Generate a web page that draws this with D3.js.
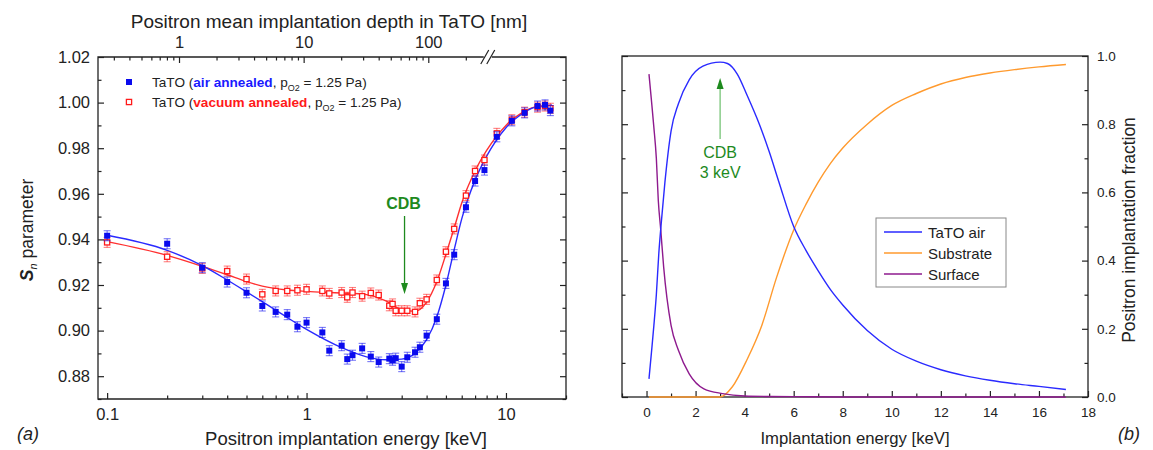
<!DOCTYPE html>
<html>
<head>
<meta charset="utf-8">
<script src="https://cdn.jsdelivr.net/npm/d3@7"></script>
<style>
  body { margin: 0; background: #fff; }
  svg { display: block; font-family: "Liberation Sans", Arial, sans-serif; }
  .tick text { fill: #222; }
</style>
</head>
<body>
<svg id="fig" width="1153" height="450"></svg>
<script>
// ---------- Panel (a): S_n parameter vs positron energy ----------
const energyAir = [0.1,0.2,0.3,0.4,0.5,0.6,0.7,0.8,0.9,1.0,1.2,1.3,1.5,1.6,1.7,1.9,2.1,2.3,2.6,2.7,2.8,3.0,3.2,3.5,3.7,4.0,4.5,5.0,5.5,6.3,7.0,7.8,9.0,10.7,12.4,14.4,15.7,16.7];
const sAir = [0.9416,0.9381,0.9276,0.9213,0.9166,0.9108,0.9082,0.9070,0.9017,0.9035,0.8992,0.8912,0.8934,0.8875,0.8892,0.8922,0.8886,0.8862,0.8877,0.8870,0.8879,0.8842,0.8883,0.8905,0.8927,0.8978,0.9050,0.9207,0.9333,0.9541,0.9656,0.9704,0.9850,0.9920,0.9955,0.9985,0.9990,0.9965];
const energyVac = [0.1,0.2,0.3,0.4,0.5,0.6,0.7,0.8,0.9,1.0,1.2,1.3,1.5,1.6,1.7,1.9,2.1,2.3,2.6,2.7,2.8,3.0,3.2,3.5,3.7,4.0,4.5,5.0,5.5,6.3,7.0,7.8,9.0,10.7,12.4,14.4,15.7,16.7];
const sVac = [0.9387,0.9324,0.9273,0.9261,0.9226,0.9159,0.9174,0.9174,0.9177,0.9181,0.9174,0.9163,0.9167,0.9146,0.9167,0.9151,0.9165,0.9156,0.9109,0.9117,0.9087,0.9087,0.9087,0.9082,0.9120,0.9137,0.9222,0.9346,0.9446,0.9592,0.9700,0.9748,0.9865,0.9925,0.9958,0.9980,0.9985,0.9975];
const sErr = 0.0022;

// fitted model curves
const fitAirE = [0.1,0.2,0.3,0.4,0.5,0.7,1.0,1.5,2.0,2.5,3.0,3.5,4.0,4.5,5.0,5.5,6.0,7.0,8.0,10.0,12.0,14.0,17.0];
const fitAirS = [0.9418,0.9352,0.9285,0.9222,0.9170,0.9090,0.9005,0.8925,0.8885,0.8872,0.8875,0.8900,0.8960,0.9060,0.9200,0.9355,0.9490,0.9660,0.9765,0.9890,0.9950,0.9980,0.9990];
const fitVacE = [0.1,0.2,0.3,0.4,0.5,0.6,0.8,1.0,1.5,2.0,2.5,3.0,3.5,4.0,4.5,5.0,5.5,6.0,7.0,8.0,10.0,12.0,14.0,17.0];
const fitVacS = [0.9390,0.9330,0.9282,0.9245,0.9215,0.9195,0.9178,0.9172,0.9165,0.9158,0.9130,0.9092,0.9085,0.9125,0.9215,0.9335,0.9450,0.9560,0.9700,0.9790,0.9900,0.9955,0.9980,0.9985];

const sTicksMajor = [0.88,0.90,0.92,0.94,0.96,0.98,1.00,1.02];
const sTicksMinor = [0.87,0.89,0.91,0.93,0.95,0.97,0.99,1.01];
const eTicksMajor = [0.1,1,10];
const eTicksMinor = [0.2,0.3,0.4,0.5,0.6,0.7,0.8,0.9,2,3,4,5,6,7,8,9,20];
const depthTicksMajor = [1,10,100];
const depthTicksMinor = [0.3,0.4,0.5,0.6,0.7,0.8,0.9,2,3,4,5,6,7,8,9,20,30,40,50,60,70,80,90,200];
const depthBreak = 300;
// mean implantation depth z = A * E^n (nm, keV)
const depthA = 10.55, depthN = 1.6;

// ---------- Panel (b): implantation fractions ----------
const tatoE = [0.1,0.2,0.3,0.4,0.5,0.6,0.75,1.0,1.3,1.74,2.3,3.0,3.3,3.7,4.1,4.6,5.0,5.4,6.0,6.5,7.0,7.5,8.0,9.0,10.0,11.0,12.0,13.0,14.0,15.0,16.0,17.1];
const tatoF = [0.053,0.13,0.21,0.30,0.42,0.51,0.63,0.78,0.86,0.93,0.97,0.982,0.978,0.947,0.885,0.80,0.72,0.63,0.50,0.43,0.37,0.315,0.27,0.195,0.14,0.105,0.080,0.062,0.049,0.039,0.031,0.022];
const substrateE = [0.1,3.0,3.5,4.1,4.7,5.3,6.0,6.5,7.0,7.5,8.0,9.0,10.0,11.0,12.0,13.0,14.0,15.0,16.0,17.1];
const substrateF = [0,0,0.03,0.11,0.21,0.35,0.49,0.565,0.63,0.685,0.73,0.80,0.855,0.89,0.918,0.937,0.95,0.96,0.968,0.975];
const surfaceE = [0.1,0.2,0.3,0.4,0.48,0.58,0.7,1.0,1.3,1.74,2.34,3.1,4.0,5.0,6.0,8.0,10.0,13.0,17.1];
const surfaceF = [0.947,0.87,0.79,0.70,0.576,0.49,0.38,0.21,0.137,0.068,0.024,0.010,0.003,0.0015,0.001,0,0,0,0];
const fracTicksMajor = [0,0.2,0.4,0.6,0.8,1.0];
const fracTicksMinor = [0.1,0.3,0.5,0.7,0.9];
const energyTicksMajor = [0,2,4,6,8,10,12,14,16,18];
const energyTicksMinor = [-1,1,3,5,7,9,11,13,15,17];
const legendNames = ["TaTO air","Substrate","Surface"];
const legendColors = ["#2a2aff","#ff9a2e","#8e1a8e"];

const svg = d3.select("#fig");
const ink = "#222";
const green = "#1e8a1e";

// ===== Panel (a) =====
const aL = 98, aR = 566, aT = 57, aB = 399;
const xA = d3.scaleLog().domain([0.09, 20]).range([aL, aR]);
const yA = d3.scaleLinear().domain([0.87, 1.02]).range([aB, aT]);
const xTop = d3.scaleLog()
  .domain([depthA * Math.pow(0.09, depthN), depthA * Math.pow(20, depthN)])
  .range([aL, aR]);

const gA = svg.append("g");

function styleAxis(g, size) {
  g.select(".domain").remove();
  g.selectAll(".tick line").attr("stroke", ink).attr("stroke-width", 1.2);
  g.selectAll(".tick text").attr("font-size", size).attr("font-family", "Liberation Sans, Arial, sans-serif");
}

// left axis
gA.append("g").attr("transform", `translate(${aL},0)`)
  .call(d3.axisLeft(yA).tickValues(sTicksMajor).tickFormat(d3.format(".2f")).tickSize(-6).tickPadding(8))
  .call(g => styleAxis(g, "16.5px"));
gA.append("g").attr("transform", `translate(${aL},0)`)
  .call(d3.axisLeft(yA).tickValues(sTicksMinor).tickFormat("").tickSize(-3.5))
  .call(g => styleAxis(g, "1px"));
// right axis (no labels)
gA.append("g").attr("transform", `translate(${aR},0)`)
  .call(d3.axisRight(yA).tickValues(sTicksMajor).tickFormat("").tickSize(-6))
  .call(g => styleAxis(g, "1px"));
gA.append("g").attr("transform", `translate(${aR},0)`)
  .call(d3.axisRight(yA).tickValues(sTicksMinor).tickFormat("").tickSize(-3.5))
  .call(g => styleAxis(g, "1px"));
// bottom axis
gA.append("g").attr("transform", `translate(0,${aB})`)
  .call(d3.axisBottom(xA).tickValues(eTicksMajor).tickFormat(d3.format("~g")).tickSize(-6).tickPadding(9))
  .call(g => styleAxis(g, "16.5px"));
gA.append("g").attr("transform", `translate(0,${aB})`)
  .call(d3.axisBottom(xA).tickValues(eTicksMinor).tickFormat("").tickSize(-3.5))
  .call(g => styleAxis(g, "1px"));
// top depth axis
gA.append("g").attr("transform", `translate(0,${aT})`)
  .call(d3.axisTop(xTop).tickValues(depthTicksMajor).tickFormat(d3.format("~g")).tickSize(-6).tickPadding(9))
  .call(g => styleAxis(g, "16.5px"));
gA.append("g").attr("transform", `translate(0,${aT})`)
  .call(d3.axisTop(xTop).tickValues(depthTicksMinor).tickFormat("").tickSize(-3.5))
  .call(g => styleAxis(g, "1px"));

// frame with a break on the top edge
const xBreak = xTop(depthBreak);
gA.append("path")
  .attr("d", `M${xBreak - 4},${aT} H${aL} V${aB} H${aR} V${aT} H${xBreak + 4}`)
  .attr("fill", "none").attr("stroke", ink).attr("stroke-width", 1.3);
[-3, 3].forEach(dx => {
  gA.append("line")
    .attr("x1", xBreak + dx - 4).attr("y1", aT + 7)
    .attr("x2", xBreak + dx + 4).attr("y2", aT - 7)
    .attr("stroke", ink).attr("stroke-width", 1.2);
});

// fitted curves
const lineA = d3.line().x(d => xA(d[0])).y(d => yA(d[1])).curve(d3.curveMonotoneX);
gA.append("path").datum(d3.zip(fitVacE, fitVacS)).attr("d", lineA)
  .attr("fill", "none").attr("stroke", "#ff3030").attr("stroke-width", 1.4);
gA.append("path").datum(d3.zip(fitAirE, fitAirS)).attr("d", lineA)
  .attr("fill", "none").attr("stroke", "#2a2aff").attr("stroke-width", 1.4);

function drawSeries(E, S, color, filled) {
  const g = gA.append("g");
  const pts = d3.zip(E, S);
  const eb = g.append("g").attr("stroke", color).attr("stroke-opacity", 0.55).attr("stroke-width", 1.1);
  pts.forEach(([e, s]) => {
    const x = xA(e), y1 = yA(s - sErr), y2 = yA(s + sErr);
    eb.append("line").attr("x1", x).attr("x2", x).attr("y1", y1).attr("y2", y2);
    eb.append("line").attr("x1", x - 3.5).attr("x2", x + 3.5).attr("y1", y1).attr("y2", y1);
    eb.append("line").attr("x1", x - 3.5).attr("x2", x + 3.5).attr("y1", y2).attr("y2", y2);
  });
  g.selectAll("rect").data(pts).join("rect")
    .attr("x", d => xA(d[0]) - (filled ? 3 : 2.6))
    .attr("y", d => yA(d[1]) - (filled ? 3 : 2.6))
    .attr("width", filled ? 6 : 5.2).attr("height", filled ? 6 : 5.2)
    .attr("fill", filled ? color : "#fff")
    .attr("stroke", filled ? "none" : color).attr("stroke-width", 1.3);
}
drawSeries(energyVac, sVac, "#ff1a1a", false);
drawSeries(energyAir, sAir, "#0a0aee", true);

// legend
const legA = gA.append("g").attr("font-size", "13.6px").attr("fill", ink);
legA.append("rect").attr("x", 126).attr("y", 79).attr("width", 6).attr("height", 6).attr("fill", "#0a0aee");
legA.append("rect").attr("x", 126.4).attr("y", 99.4).attr("width", 5.2).attr("height", 5.2)
  .attr("fill", "#fff").attr("stroke", "#ff1a1a").attr("stroke-width", 1.3);
function legendText(y, word, color) {
  const t = legA.append("text").attr("x", 152).attr("y", y);
  t.append("tspan").text("TaTO (");
  t.append("tspan").attr("fill", color).attr("font-weight", "bold").text(word);
  t.append("tspan").text(", p");
  t.append("tspan").attr("font-size", "9px").attr("dy", 4).text("O2");
  t.append("tspan").attr("dy", -4).text(" = 1.25 Pa)");
}
legendText(87, "air annealed", "#1a1aff");
legendText(107, "vacuum annealed", "#ff1a1a");

// CDB marker
const xCdbA = xA(3.1);
gA.append("text").attr("x", xCdbA - 1).attr("y", 209).attr("text-anchor", "middle")
  .attr("font-size", "16px").attr("font-weight", "bold").attr("fill", green).text("CDB");
gA.append("line").attr("x1", xCdbA).attr("x2", xCdbA).attr("y1", 216).attr("y2", 284)
  .attr("stroke", green).attr("stroke-width", 1.3);
gA.append("path").attr("d", `M${xCdbA - 3.5},${283} L${xCdbA + 3.5},${283} L${xCdbA},${294} Z`).attr("fill", green);

// titles
svg.append("text").attr("x", 329).attr("y", 28).attr("text-anchor", "middle")
  .attr("font-size", "19px").attr("fill", ink).text("Positron mean implantation depth in TaTO [nm]");
svg.append("text").attr("x", 346).attr("y", 445).attr("text-anchor", "middle")
  .attr("font-size", "18.5px").attr("fill", ink).text("Positron implantation energy [keV]");
svg.append("text").attr("x", 28).attr("y", 440).attr("text-anchor", "middle")
  .attr("font-size", "18px").attr("font-style", "italic").attr("fill", ink).text("(a)");
const yl = svg.append("text").attr("transform", "translate(33,230) rotate(-90)").attr("text-anchor", "middle")
  .attr("font-size", "17.5px").attr("fill", ink);
yl.append("tspan").attr("font-weight", "bold").attr("font-style", "italic").text("S");
yl.append("tspan").attr("font-style", "italic").attr("font-size", "11px").attr("dy", 4).text("n");
yl.append("tspan").attr("dy", -4).text(" parameter");

// ===== Panel (b) =====
const bL = 622, bR = 1088, bT = 56, bB = 397;
const xB = d3.scaleLinear().domain([-1, 18]).range([bL, bR]);
const yB = d3.scaleLinear().domain([0, 1]).range([bB, bT]);
const gB = svg.append("g");

gB.append("g").attr("transform", `translate(${bL},0)`)
  .call(d3.axisLeft(yB).tickValues(fracTicksMajor).tickFormat("").tickSize(-6))
  .call(g => styleAxis(g, "1px"));
gB.append("g").attr("transform", `translate(${bL},0)`)
  .call(d3.axisLeft(yB).tickValues(fracTicksMinor).tickFormat("").tickSize(-3.5))
  .call(g => styleAxis(g, "1px"));
gB.append("g").attr("transform", `translate(${bR},0)`)
  .call(d3.axisRight(yB).tickValues(fracTicksMajor).tickFormat(d3.format(".1f")).tickSize(-6).tickPadding(9))
  .call(g => styleAxis(g, "13.5px"));
gB.append("g").attr("transform", `translate(${bR},0)`)
  .call(d3.axisRight(yB).tickValues(fracTicksMinor).tickFormat("").tickSize(-3.5))
  .call(g => styleAxis(g, "1px"));
gB.append("g").attr("transform", `translate(0,${bB})`)
  .call(d3.axisBottom(xB).tickValues(energyTicksMajor).tickFormat(d3.format("d")).tickSize(-6).tickPadding(10))
  .call(g => styleAxis(g, "13.5px"));
gB.append("g").attr("transform", `translate(0,${bB})`)
  .call(d3.axisBottom(xB).tickValues(energyTicksMinor).tickFormat("").tickSize(-3.5))
  .call(g => styleAxis(g, "1px"));

gB.append("rect").attr("x", bL).attr("y", bT).attr("width", bR - bL).attr("height", bB - bT)
  .attr("fill", "none").attr("stroke", ink).attr("stroke-width", 1.3);

const lineB = d3.line().x(d => xB(d[0])).y(d => yB(d[1])).curve(d3.curveMonotoneX);
gB.append("path").datum(d3.zip(substrateE, substrateF)).attr("d", lineB)
  .attr("fill", "none").attr("stroke", legendColors[1]).attr("stroke-width", 1.4);
gB.append("path").datum(d3.zip(surfaceE, surfaceF)).attr("d", lineB)
  .attr("fill", "none").attr("stroke", legendColors[2]).attr("stroke-width", 1.4);
gB.append("path").datum(d3.zip(tatoE, tatoF)).attr("d", lineB)
  .attr("fill", "none").attr("stroke", legendColors[0]).attr("stroke-width", 1.4);

// CDB arrow at 3 keV
const xCdbB = xB(3);
gB.append("line").attr("x1", xCdbB).attr("x2", xCdbB).attr("y1", 139).attr("y2", 88)
  .attr("stroke", "#6cbf6c").attr("stroke-width", 1.2);
gB.append("path").attr("d", `M${xCdbB - 3.5},${89} L${xCdbB + 3.5},${89} L${xCdbB},${78} Z`).attr("fill", green);
gB.append("text").attr("x", xCdbB).attr("y", 158).attr("text-anchor", "middle")
  .attr("font-size", "16px").attr("fill", green).text("CDB");
gB.append("text").attr("x", xCdbB).attr("y", 178).attr("text-anchor", "middle")
  .attr("font-size", "16px").attr("fill", green).text("3 keV");

// legend
const legB = gB.append("g");
legB.append("rect").attr("x", 876).attr("y", 218).attr("width", 130).attr("height", 69)
  .attr("fill", "#fff").attr("stroke", "#888").attr("stroke-width", 1);
legendNames.forEach((name, i) => {
  const y = 232 + i * 21;
  legB.append("line").attr("x1", 884).attr("x2", 922).attr("y1", y).attr("y2", y)
    .attr("stroke", legendColors[i]).attr("stroke-width", 1.5);
  legB.append("text").attr("x", 928).attr("y", y + 5.5).attr("font-size", "15px").attr("fill", ink).text(name);
});

svg.append("text").attr("x", 855).attr("y", 444).attr("text-anchor", "middle")
  .attr("font-size", "16.7px").attr("fill", ink).text("Implantation energy [keV]");
svg.append("text").attr("transform", "translate(1135,230) rotate(-90)").attr("text-anchor", "middle")
  .attr("font-size", "17.5px").attr("fill", ink).text("Positron implantation fraction");
svg.append("text").attr("x", 1129).attr("y", 440).attr("text-anchor", "middle")
  .attr("font-size", "18px").attr("font-style", "italic").attr("fill", ink).text("(b)");
</script>
</body>
</html>
